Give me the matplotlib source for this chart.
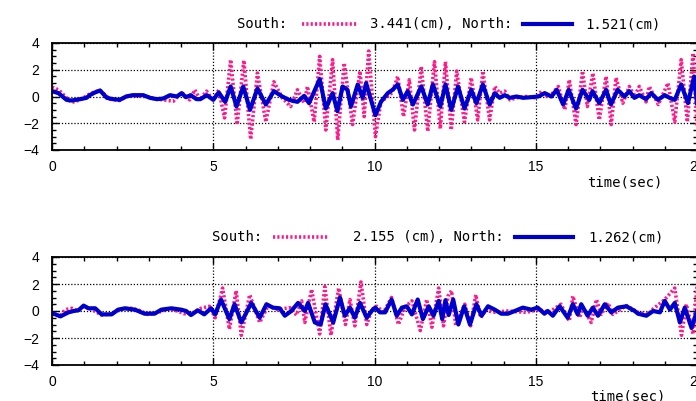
import matplotlib
matplotlib.use("Agg")
import matplotlib.pyplot as plt
from matplotlib.lines import Line2D
from matplotlib.ticker import MultipleLocator

# ---------------------------------------------------------------------------
# values (time in sec, displacement in cm)
# ---------------------------------------------------------------------------
top_north_t = [0.0, 0.2, 0.45, 0.6, 0.87, 1.07, 1.17, 1.33, 1.49, 1.7, 1.9, 2.1, 2.3, 2.5, 2.83,
               3.04, 3.25, 3.45, 3.66, 3.87, 4.02, 4.15, 4.3, 4.48, 4.6, 4.8, 5.0, 5.17, 5.37,
               5.54, 5.72, 5.93, 6.14, 6.37, 6.63, 6.88, 7.14, 7.35, 7.61, 7.82, 7.97, 8.3,
               8.49, 8.7, 8.85, 9.01, 9.16, 9.27, 9.48, 9.63, 9.74, 9.89, 10.03, 10.2, 10.41,
               10.56, 10.72, 10.88, 11.03, 11.19, 11.45, 11.65, 11.81, 12.04, 12.2, 12.38,
               12.59, 12.79, 13.0, 13.16, 13.36, 13.57, 13.73, 13.88, 14.04, 14.2, 14.4, 14.61,
               14.87, 15.08, 15.28, 15.49, 15.65, 15.85, 16.02, 16.25, 16.45, 16.66, 16.76,
               16.97, 17.18, 17.33, 17.54, 17.75, 17.9, 18.06, 18.21, 18.42, 18.58, 18.79,
               19.0, 19.15, 19.31, 19.51, 19.72, 19.91, 20.0]
top_north = [0.4, 0.25, -0.25, -0.3, -0.2, -0.1, 0.1, 0.3, 0.45, -0.1, -0.2, -0.25, 0.0, 0.1, 0.1,
             -0.1, -0.2, -0.15, 0.1, 0.0, 0.25, -0.05, 0.1, -0.2, -0.2, 0.1, -0.25, 0.3, -0.4,
             0.75, -0.75, 0.75, -1.0, 0.6, -0.6, 0.4, 0.0, -0.25, -0.4, 0.05, -0.5, 1.3,
             -0.9, 0.25, -1.1, 0.75, 0.5, -0.75, 0.9, -0.1, 1.0, -0.25, -1.4, -0.4, 0.25,
             0.5, 0.9, -0.25, 0.4, -0.6, 0.75, -0.6, 0.9, -0.75, 0.9, -1.0,
             0.75, -0.9, 0.5, -0.5, 0.9, -0.6, 0.25, -0.1, 0.1, -0.1, 0.0, -0.1,
             -0.05, 0.0, 0.25, 0.0, 0.5, -0.6, 0.5, -0.9, 0.5, -0.25, 0.4,
             -0.5, 0.5, -0.6, 0.5, 0.0, 0.4, -0.1, 0.1, -0.2, 0.25, -0.25,
             0.1, -0.1, -0.25, 0.9, -0.5, 1.5, -0.5]

top_south_t = [0.0, 0.2, 0.6, 0.87, 1.18, 1.33, 1.49, 1.8, 2.1, 2.3, 2.5, 2.93, 3.14, 3.45, 3.76,
               4.02, 4.27, 4.43, 4.59, 4.79, 5.0, 5.17, 5.35, 5.54, 5.74, 5.95, 6.16, 6.37,
               6.63, 6.88, 7.14, 7.4, 7.61, 7.82, 7.92, 8.13, 8.3, 8.49, 8.7, 8.86, 9.06,
               9.32, 9.55, 9.68, 9.82, 10.03, 10.2, 10.41, 10.55, 10.72, 10.9, 11.08, 11.24,
               11.45, 11.65, 11.86, 12.04, 12.2, 12.38, 12.55, 12.79, 13.0, 13.2, 13.36,
               13.57, 13.73, 13.88, 14.04, 14.2, 14.4, 14.7, 15.0, 15.18, 15.4, 15.7, 15.9,
               16.04, 16.25, 16.45, 16.6, 16.77, 16.97, 17.18, 17.34, 17.49, 17.7, 17.9,
               18.06, 18.21, 18.42, 18.52, 18.8, 19.1, 19.31, 19.51, 19.7, 19.88, 20.0]
top_south = [0.7, 0.5, -0.45, -0.25, 0.2, 0.35, 0.45, -0.2, -0.3, 0.0, 0.05, 0.0, -0.15, -0.25, -0.35,
             0.3, -0.25, 0.5, -0.25, 0.4, -0.3, 0.5, -1.6, 2.75, -2.1, 2.7, -3.2, 1.75,
             -1.9, 1.1, -0.1, -0.75, 0.5, -0.5, 0.75, -1.9, 3.0, -2.5, 2.75, -3.25, 2.5,
             -2.1, 1.9, -1.5, 3.4, -3.0, -0.4, 0.0, 0.3, 1.5, -1.5, 1.25, -2.5,
             2.25, -2.6, 2.6, -2.4, 2.6, -2.5, 1.9, -1.9, 1.4, -1.75, 1.9,
             -1.75, 0.75, 0.25, 0.4, -0.25, -0.1, 0.0, -0.1, 0.4, -0.1, 0.75, -1.0,
             1.25, -2.1, 1.9, -0.75, 1.75, -1.75, 1.5, -2.1, 1.4, -0.5, 0.75,
             0.0, 0.75, -0.4, 0.75, -0.6, 1.0, -1.9, 2.75, -1.9, 3.25, -2.25]

bot_north_t = [0.0, 0.26, 0.51, 0.67, 0.82, 0.98, 1.13, 1.34, 1.54, 1.85, 2.05, 2.26, 2.57, 2.87,
               3.18, 3.39, 3.7, 4.0, 4.16, 4.31, 4.52, 4.72, 4.93, 5.06, 5.24, 5.5, 5.66, 5.87,
               6.18, 6.44, 6.65, 6.85, 7.06, 7.22, 7.42, 7.63, 7.84, 7.94, 8.15, 8.33, 8.48,
               8.72, 8.93, 9.08, 9.24, 9.39, 9.55, 9.76, 9.91, 10.02, 10.17, 10.33, 10.53,
               10.69, 10.85, 11.0, 11.16, 11.34, 11.5, 11.68, 11.83, 11.99, 12.1, 12.2, 12.3,
               12.44, 12.6, 12.78, 12.96, 13.16, 13.32, 13.52, 13.73, 13.93, 14.14, 14.35,
               14.6, 14.86, 15.06, 15.27, 15.37, 15.53, 15.74, 15.99, 16.15, 16.3, 16.41,
               16.61, 16.77, 16.93, 17.14, 17.34, 17.55, 17.81, 18.07, 18.17, 18.43, 18.64,
               18.85, 19.0, 19.16, 19.31, 19.47, 19.62, 19.83, 20.0]
bot_north = [-0.15, -0.4, -0.1, 0.0, 0.05, 0.4, 0.2, 0.2, -0.25, -0.25, 0.1, 0.2, 0.1, -0.2,
             -0.2, 0.1, 0.2, 0.1, 0.0, -0.3, 0.05, -0.25, 0.2, -0.25, 0.85, -0.6, 0.5, -0.85,
             0.6, -0.5, 0.5, 0.25, 0.2, -0.35, 0.0, 0.6, 0.0, 0.6, -0.85, -1.0, 0.5,
             -0.85, 1.0, -0.35, 0.25, -0.5, 0.6, -0.5, 0.0, 0.25, -0.1, -0.1, 0.85,
             -0.35, 0.25, 0.35, -0.25, 0.85, -0.6, 0.35, -0.35, 0.75, -0.6, 0.8, -0.3,
             0.85, -1.0, 0.35, -1.0, 0.5, -0.35, 0.35, 0.1, -0.2, -0.2, 0.0,
             0.25, 0.1, 0.25, -0.2, 0.0, -0.35, 0.35, -0.5, 0.5, -0.25, 0.5,
             -0.35, 0.25, -0.35, 0.5, -0.1, 0.25, 0.35, 0.0, -0.2, -0.35, 0.0,
             -0.1, 0.75, 0.1, 0.6, -0.85, 0.25, -1.25, 0.0]

bot_south_t = [0.0, 0.26, 0.41, 0.62, 0.8, 0.98, 1.2, 1.54, 1.85, 2.16, 2.46, 2.7, 2.97, 3.3, 3.6,
               3.9, 4.1, 4.35, 4.62, 4.88, 5.06, 5.29, 5.5, 5.71, 5.87, 6.13, 6.44, 6.7, 7.0,
               7.37, 7.58, 7.74, 7.84, 8.05, 8.3, 8.46, 8.65, 8.89, 9.1, 9.24, 9.39, 9.58,
               9.76, 9.91, 10.07, 10.28, 10.53, 10.74, 10.95, 11.16, 11.42, 11.62, 11.78,
               11.99, 12.14, 12.28, 12.39, 12.52, 12.8, 12.98, 13.14, 13.29, 13.45, 13.66,
               14.13, 14.69, 15.1, 15.41, 15.78, 16.04, 16.15, 16.36, 16.46, 16.72, 16.88,
               17.03, 17.24, 17.39, 17.81, 18.17, 18.48, 18.64, 19.0, 19.31, 19.52, 19.67,
               19.88, 20.0]
bot_south = [-0.25, -0.35, 0.1, 0.2, 0.0, 0.35, 0.15, -0.3, -0.2, 0.15, 0.2, 0.05, -0.25, -0.1, 0.15,
             0.0, -0.2, -0.15, 0.2, 0.35, -0.5, 1.7, -1.35, 1.5, -1.8, 1.2, -0.85, 0.4, 0.1,
             0.25, -0.3, 0.75, -0.85, 1.6, -1.7, 1.8, -1.8, 1.7, -1.0, 0.85, -1.1, 2.15,
             -1.0, 0.1, 0.35, -0.1, 1.0, -1.0, 0.3, 0.75, -1.45, 0.85, -1.2,
             1.7, -1.1, 1.1, 1.5, -1.1, 0.5, -1.1, 1.2, -0.5, 0.1, -0.1,
             0.0, -0.1, 0.1, -0.1, 0.5, -0.75, 1.1, -0.5, 0.3, -0.85, 0.85,
             -0.25, 0.6, -0.25, 0.4, -0.1, -0.25, 0.15, 0.85, 1.7, -1.8, 0.5,
             -1.7, 1.8]

top_amp = ("3.441(cm), North:", "1.521(cm)")
bot_amp = ("2.155 (cm), North:", "1.262(cm)")

PINK = "#ff1a8c"
BLUE = "#0000cc"
W, H = 696, 401

plt.rcParams["font.family"] = ["Liberation Sans", "DejaVu Sans"]
fig = plt.figure(figsize=(W / 100, H / 100), dpi=100)


def px_axes(left, top, right, bottom):
    return fig.add_axes([left / W, 1 - bottom / H, (right - left) / W, (bottom - top) / H])


def draw_panel(ax, ts, s, tn, n):
    ax.plot(ts, s, color=PINK, lw=2.6, ls=(0, (0.6, 0.6)))
    ax.plot(tn, n, color=BLUE, lw=3.0, solid_joinstyle="round")
    ax.set_xlim(0, 20)
    ax.set_ylim(-4, 4)
    ax.xaxis.set_major_locator(MultipleLocator(5))
    ax.xaxis.set_minor_locator(MultipleLocator(1))
    ax.yaxis.set_major_locator(MultipleLocator(2))
    ax.yaxis.set_minor_locator(MultipleLocator(0.5))
    ax.grid(True, which="major", color="black", ls=(0, (1, 1.5)), lw=0.9)
    ax.tick_params(which="both", direction="in", top=True, right=True, width=1.0)
    ax.tick_params(which="major", length=5, labelsize=10)
    ax.tick_params(axis="x", pad=7)
    ax.tick_params(axis="y", pad=9)
    ax.tick_params(which="minor", length=3)
    for sp in ax.spines.values():
        sp.set_linewidth(1.3)


def legend_row(y, x_south, pink_span, x_mid, blue_span, x_end, mid, end):
    mono = dict(family="DejaVu Sans Mono", fontsize=10, va="center")
    fy = 1 - y / H
    fig.text(x_south / W, fy, "South:", **mono)
    fig.add_artist(Line2D([pink_span[0] / W, pink_span[1] / W], [fy, fy], color=PINK,
                          lw=2.6, ls=(0, (0.6, 0.6))))
    fig.text(x_mid / W, fy, mid, **mono)
    fig.add_artist(Line2D([blue_span[0] / W, blue_span[1] / W], [fy, fy], color=BLUE, lw=3.0))
    fig.text(x_end / W, fy, end, **mono)


ax1 = px_axes(52, 43, 697, 150)
draw_panel(ax1, top_south_t, top_south, top_north_t, top_north)
ax2 = px_axes(52, 257, 697, 365)
draw_panel(ax2, bot_south_t, bot_south, bot_north_t, bot_north)

legend_row(24, 237, (302, 357), 370, (523, 572), 585, *top_amp)
legend_row(237, 212, (273, 328), 353, (515, 573), 588, *bot_amp)

fig.text(587 / W, 1 - 183 / H, "time(sec)", family="DejaVu Sans Mono", fontsize=10, va="center")
fig.text(590 / W, 1 - 397 / H, "time(sec)", family="DejaVu Sans Mono", fontsize=10, va="center")

fig.savefig("out.png", dpi=100)
